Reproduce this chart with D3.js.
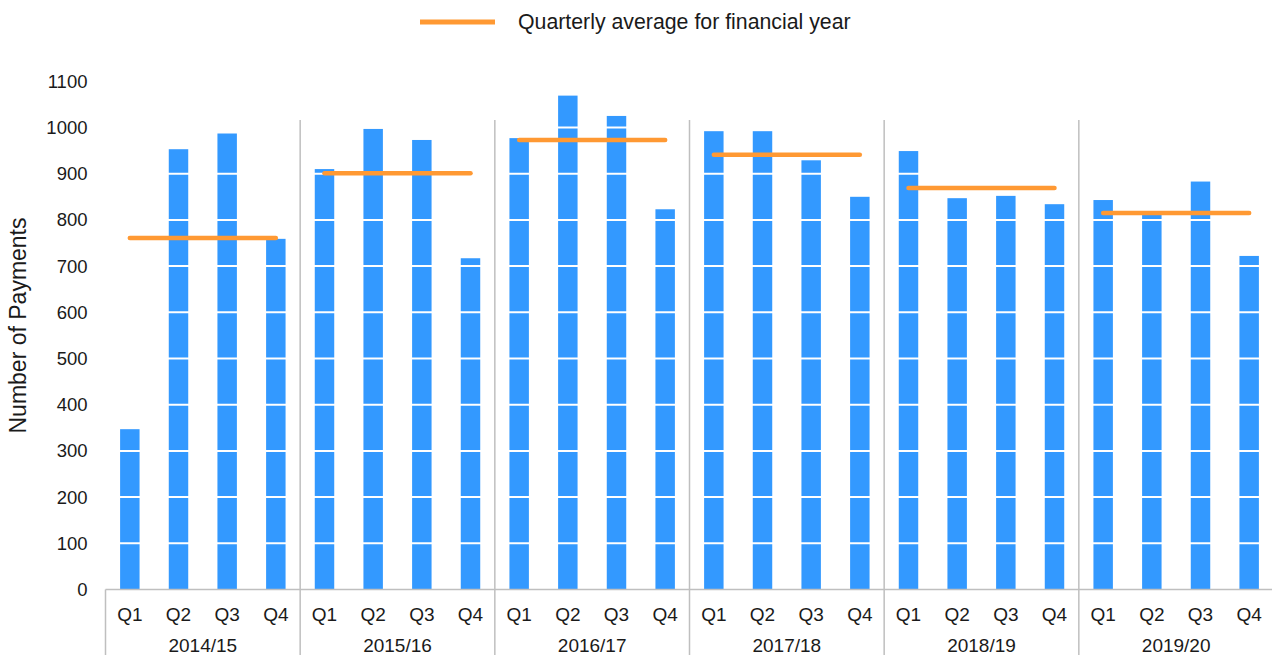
<html>
<head>
    <style>
        body { margin: 0; background: #fff; }
        text { font-family: "Liberation Sans", Arial, sans-serif; fill: #1a1a1a; }
    </style>
</head>
<body>
    <svg id="container" width="1272" height="655"></svg>
</body>
<script src="https://d3js.org/d3.v7.min.js"></script>
<script>
    // data
    const years = ["2014/15", "2015/16", "2016/17", "2017/18", "2018/19", "2019/20"]
    const quarters = ["Q1", "Q2", "Q3", "Q4"]
    const payments = [
        [347, 953, 987, 759],
        [910, 997, 973, 717],
        [977, 1069, 1025, 823],
        [992, 992, 929, 850],
        [949, 847, 852, 834],
        [843, 812, 883, 722]
    ]
    const yearAverage = [761, 901, 973, 941, 869, 815]
    const yTicks = [0, 100, 200, 300, 400, 500, 600, 700, 800, 900, 1000, 1100]

    const svg = d3.select("#container")
    const plotLeft = 105.5, plotRight = 1273.5, plotBase = 589.5, plotTop = 81.3
    const barColor = "#3399ff", avgColor = "#ff9933", lineGrey = "#bfbfbf"

    let yScale = d3.scaleLinear().domain([0, 1100]).range([plotBase, plotTop])
    let x0 = d3.scaleBand().domain(years).range([plotLeft, plotRight])
    let x1 = d3.scaleBand().domain(quarters).range([0, x0.bandwidth()])
               .paddingInner(0.6).paddingOuter(0.3)

    // y tick labels (no axis line)
    let yAxis = svg.append("g")
        .attr("transform", "translate(" + plotLeft + ",0)")
        .call(d3.axisLeft(yScale).tickValues(yTicks).tickSize(0).tickPadding(18).tickFormat(d3.format("d")))
    yAxis.select("path.domain").remove()
    yAxis.selectAll("text").style("font-size", "18.5px").style("font-family", "Liberation Sans, Arial, sans-serif").attr("fill", "#1a1a1a")

    svg.append("text")
        .attr("transform", "rotate(-90)")
        .attr("x", -325.5)
        .attr("y", 26)
        .style("text-anchor", "middle")
        .style("font-size", "23px")
        .text("Number of Payments")

    // bars
    let groups = svg.selectAll("g.year")
        .data(years)
        .enter().append("g")
        .attr("class", "year")
        .attr("transform", d => "translate(" + x0(d) + ",0)")

    groups.selectAll("rect")
        .data((d, i) => quarters.map((q, j) => ({q: q, v: payments[i][j]})))
        .enter().append("rect")
        .attr("x", d => x1(d.q))
        .attr("width", x1.bandwidth())
        .attr("y", d => yScale(d.v))
        .attr("height", d => plotBase - yScale(d.v))
        .attr("fill", barColor)

    // white gridlines over the bars
    svg.append("g").selectAll("line")
        .data(yTicks.filter(t => t > 0))
        .enter().append("line")
        .attr("x1", plotLeft).attr("x2", plotRight)
        .attr("y1", d => yScale(d)).attr("y2", d => yScale(d))
        .attr("stroke", "#fff").attr("stroke-width", 2)

    // group separators and category axis
    svg.append("g").selectAll("line")
        .data(years.concat(["end"]))
        .enter().append("line")
        .attr("x1", (d, i) => i < years.length ? x0(d) : plotRight)
        .attr("x2", (d, i) => i < years.length ? x0(d) : plotRight)
        .attr("y1", (d, i) => i == 0 ? plotBase : 120)
        .attr("y2", 655)
        .attr("stroke", lineGrey).attr("stroke-width", 1.5)
    svg.append("line")
        .attr("x1", plotLeft).attr("x2", plotRight)
        .attr("y1", plotBase).attr("y2", plotBase)
        .attr("stroke", lineGrey).attr("stroke-width", 1.5)

    // quarterly average lines, on top of the gridlines
    svg.append("g").selectAll("line")
        .data(years)
        .enter().append("line")
        .attr("x1", d => x0(d) + x1("Q1") + x1.bandwidth() / 2)
        .attr("x2", d => x0(d) + x1("Q4") + x1.bandwidth() / 2)
        .attr("y1", (d, i) => yScale(yearAverage[i]))
        .attr("y2", (d, i) => yScale(yearAverage[i]))
        .attr("stroke", avgColor).attr("stroke-width", 4.5)
        .attr("stroke-linecap", "round")

    // quarter and year labels
    groups.selectAll("text.q")
        .data(quarters)
        .enter().append("text")
        .attr("class", "q")
        .attr("x", d => x1(d) + x1.bandwidth() / 2)
        .attr("y", 621)
        .style("text-anchor", "middle")
        .style("font-size", "19px")
        .text(d => d)
    groups.append("text")
        .attr("x", x0.bandwidth() / 2)
        .attr("y", 652)
        .style("text-anchor", "middle")
        .style("font-size", "19px")
        .text(d => d)

    // legend
    svg.append("line")
        .attr("x1", 420).attr("x2", 495)
        .attr("y1", 22).attr("y2", 22)
        .attr("stroke", avgColor).attr("stroke-width", 5)
    svg.append("text")
        .attr("x", 518).attr("y", 29)
        .style("font-size", "21.3px")
        .text("Quarterly average for financial year")
</script>
</html>
